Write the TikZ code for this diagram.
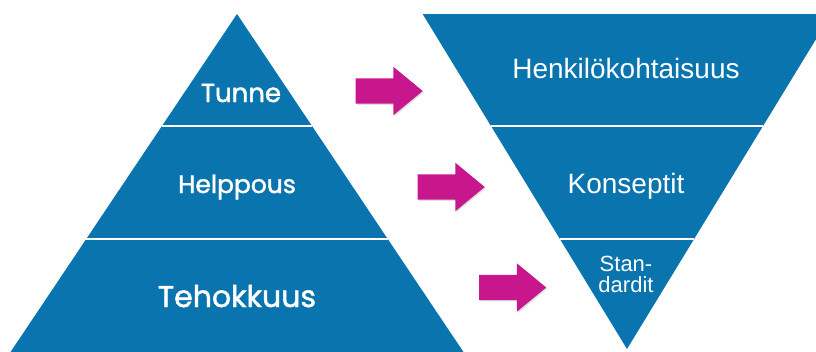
\documentclass[tikz,border=0pt]{standalone}
\usepackage{fontspec}
\setmainfont{Liberation Sans}
\newfontfamily\geofont{Poppins}[FakeBold=1.6]
\usetikzlibrary{shapes.arrows,shadows}
\definecolor{bandblue}{RGB}{10,116,175}
\definecolor{pushpink}{RGB}{200,22,140}
\tikzset{
  band/.style={fill=bandblue, draw=none},
  divider/.style={draw=white, line width=1.6pt},
  pushbox/.style={single arrow, fill=pushpink, draw=none,
    inner xsep=0pt, inner ysep=12.5pt, text width=0pt,
    minimum height=67pt, single arrow head extend=11.5pt,
    single arrow tip angle=79,
    drop shadow={opacity=0.25, shadow xshift=1.2pt, shadow yshift=-1.2pt}},
  lefttext/.style={text=white, anchor=base, inner sep=0pt},
  righttext/.style={text=white, anchor=base, inner sep=0pt, align=center}
}
\begin{document}
\begin{tikzpicture}[x=1pt, y=-1pt]
  \useasboundingbox (0,0) rectangle (816,351);
  \clip (0,0) rectangle (816,351);
  \fill[white] (0,0) rectangle (816,351);

  % upright pyramid
  \coordinate (lapex) at (237,14);
  \fill[band] (lapex) -- (237+0.67*360,374) -- (237-0.67*360,374) -- cycle;
  \coordinate (l1a) at (237-0.67*112,126);
  \coordinate (l1b) at (237+0.67*112,126);
  \coordinate (l2a) at (237-0.67*225,239);
  \coordinate (l2b) at (237+0.67*225,239);
  \draw[divider] (l1a) -- (l1b);
  \draw[divider] (l2a) -- (l2b);

  % inverted pyramid
  \coordinate (rapex) at (627,349);
  \fill[band] (rapex) -- (627-0.61*335,14) -- (627+0.61*335,14) -- cycle;
  \coordinate (r1a) at (627-0.61*223,126);
  \coordinate (r1b) at (627+0.61*223,126);
  \coordinate (r2a) at (627-0.61*110,239);
  \coordinate (r2b) at (627+0.61*110,239);
  \draw[divider] (r1a) -- (r1b);
  \draw[divider] (r2a) -- (r2b);

  % labels
  \node[lefttext, font=\geofont\fontsize{26}{26}\selectfont] (tunne) at (241,102) {Tunne};
  \node[lefttext, font=\geofont\fontsize{25}{25}\selectfont] (helppous) at (237,193) {Helppous};
  \node[lefttext, font=\geofont\fontsize{30}{30}\selectfont] (tehokkuus) at (237,307) {Tehokkuus};

  \node[righttext, font=\fontsize{28}{28}\selectfont] (henk) at (626,78) {Henkilökohtaisuus};
  \node[righttext, font=\fontsize{28}{28}\selectfont] (konseptit) at (626,193) {Konseptit};
  \node[righttext, font=\fontsize{22}{21}\selectfont, anchor=north] (standardit) at (626,256) {Stan-\\dardit};

  % arrows
  \node[pushbox] (arrA) at (381.5,91) {};
  \node[pushbox] (arrB) at (443.5,187) {};
  \node[pushbox] (arrC) at (505,287.5) {};
\end{tikzpicture}
\end{document}
